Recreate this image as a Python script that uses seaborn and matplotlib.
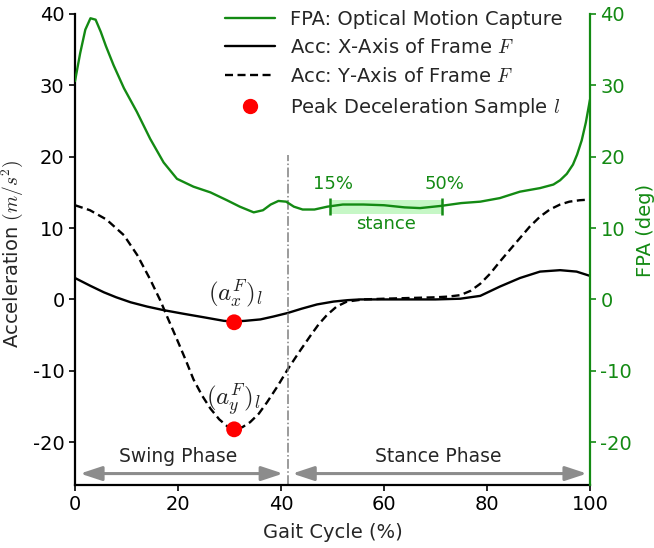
import numpy as np
import pandas as pd
import seaborn as sns
import matplotlib.pyplot as plt
from matplotlib.lines import Line2D

# FPA from optical motion capture (deg), right axis
fpa_pct = [0, 1, 2, 3, 4, 5, 6, 7.5, 9.5, 12, 14.6, 17.2, 19.8, 23, 26.3, 29.5,
           32, 34.7, 36.5, 38, 39.5, 41, 42.5, 44.2, 46.5, 49, 52, 56, 60, 64,
           67, 71, 75, 78.7, 82.5, 86.4, 90.3, 92.9, 94.2, 95.5, 96.7, 97.5,
           98.4, 99.2, 100]
fpa_deg = [30.6, 34.5, 37.8, 39.4, 39.2, 37.5, 35.5, 32.8, 29.6, 26.3, 22.5,
           19.2, 16.9, 15.8, 15.0, 13.9, 13.0, 12.2, 12.5, 13.3, 13.8, 13.7,
           13.0, 12.6, 12.6, 13.0, 13.3, 13.3, 13.2, 12.9, 12.8, 13.1, 13.5,
           13.7, 14.2, 15.1, 15.6, 16.1, 16.7, 17.6, 18.9, 20.3, 22.3, 24.8, 28.0]

# accelerometer, x axis of frame F (m/s^2)
accx_pct = [0, 3, 5.6, 8, 10.8, 14, 17.2, 21, 25, 28.9, 30.9, 33, 36, 38.5,
            41.3, 44, 47, 50.2, 53, 55.4, 60, 65, 70, 74.8, 78.7, 82.5, 86.4,
            90.3, 94.2, 97.4, 100]
accx = [3.0, 1.9, 1.0, 0.3, -0.4, -1.0, -1.5, -2.0, -2.5, -3.0, -3.1, -3.0,
        -2.8, -2.4, -1.9, -1.3, -0.7, -0.3, -0.1, 0.0, 0.0, 0.0, 0.0, 0.1,
        0.5, 1.8, 3.0, 3.9, 4.1, 3.9, 3.3]

# accelerometer, y axis of frame F (m/s^2)
accy_pct = [0, 2.9, 6.1, 9.5, 12.1, 14.6, 16.6, 18, 19.8, 21.5, 23, 24.7,
            26.3, 28, 29.6, 30.9, 32.5, 34, 35.7, 37.3, 39.3, 41.3, 43.5, 45.7,
            47.3, 48.9, 50.8, 52.8, 56, 60, 65, 70, 72.5, 74.8, 76.8, 78.7,
            80.6, 82.5, 84.5, 86.4, 88.3, 90.3, 92.2, 94.2, 96, 98, 100]
accy = [13.2, 12.5, 11.2, 9.0, 6.2, 2.8, -0.2, -2.6, -5.6, -8.5, -11.2, -13.5,
        -15.3, -16.8, -17.8, -18.1, -17.9, -17.2, -16.0, -14.4, -12.2, -9.8,
        -7.4, -5.1, -3.5, -2.2, -1.0, -0.3, 0.0, 0.1, 0.2, 0.3, 0.4, 0.6, 1.2,
        2.2, 3.6, 5.3, 7.0, 8.6, 10.2, 11.6, 12.6, 13.3, 13.7, 13.9, 14.0]

peak_pct = [30.9, 30.9]
peak_acc = [-3.2, -18.2]
swing_end = 41.3
stance_marks = [49.6, 71.2]
stance_labels = ["15%", "50%"]
stance_band = [12.0, 14.0]

sns.set_style("ticks")
plt.rcParams['font.family'] = ['DejaVu Sans']
plt.rcParams['mathtext.fontset'] = 'cm'
plt.rcParams['font.size'] = 13

green = '#138a13'
dash = (0, (3.4, 1.9))
fig, ax = plt.subplots(figsize=(6.54, 5.48), dpi=100)
fig.subplots_adjust(left=0.1147, right=0.9021, top=0.9745, bottom=0.115)
ax2 = ax.twinx()

sns.lineplot(x=accx_pct, y=accx, ax=ax, color='black', lw=1.7)
sns.lineplot(x=accy_pct, y=accy, ax=ax, color='black', lw=1.7, linestyle=dash)
sns.scatterplot(x=peak_pct, y=peak_acc, ax=ax, color='red', s=130, edgecolor='none', zorder=5)
sns.lineplot(x=fpa_pct, y=fpa_deg, ax=ax2, color=green, lw=1.7)

for a in (ax, ax2):
    a.set_xlim(0, 100)
    a.set_ylim(-26, 40)
    a.set_yticks([-20, -10, 0, 10, 20, 30, 40])
    a.set_yticklabels(['-20', '-10', '0', '10', '20', '30', '40'])

# swing / stance boundary
ax.vlines(swing_end, -26, 20.2, color='gray', linestyle='-.', lw=1.1)

# stance window 15%-50%
ax2.fill_between(stance_marks, stance_band[0], stance_band[1], color='#8ef08e', alpha=0.5, lw=0)
ax2.vlines(stance_marks, 11.9, 14.2, color=green, lw=1.8)
for xm, lab in zip(stance_marks, stance_labels):
    ax2.text(xm + 0.5, 16.2, lab, color=green, ha='center', va='center', fontsize=13)
ax2.text(np.mean(stance_marks), 10.5, 'stance', color=green, ha='center', va='center', fontsize=13)

# phase arrows
arrow = dict(arrowstyle='<|-|>,head_length=1.3,head_width=0.43', color='#8c8c8c', lw=2.2,
             mutation_scale=10, shrinkA=0, shrinkB=0)
ax.annotate('', xy=(40.4, -24.4), xytext=(1.0, -24.4), arrowprops=arrow)
ax.annotate('', xy=(99.4, -24.4), xytext=(42.2, -24.4), arrowprops=arrow)
ax.text(20.1, -22.0, 'Swing Phase', ha='center', va='center', fontsize=13.5)
ax.text(70.6, -22.0, 'Stance Phase', ha='center', va='center', fontsize=13.5)

ax.text(31.1, 0.9, r'$(a_x^F)_l$', ha='center', va='center', fontsize=18, color='#222222')
ax.text(30.8, -14.1, r'$(a_y^F)_l$', ha='center', va='center', fontsize=18, color='#222222')

ax.set_xlabel('Gait Cycle (%)', fontsize=14, labelpad=6)
ax.set_ylabel(r'Acceleration $(m/s^2)$', fontsize=14)
ax2.set_ylabel('FPA (deg)', color=green, fontsize=14)
ax.yaxis.set_label_coords(-0.098, 0.49)
ax2.yaxis.set_label_coords(1.09, 0.54)

for s in ('top', 'right'):
    ax.spines[s].set_visible(False)
for s in ('top', 'left', 'bottom'):
    ax2.spines[s].set_visible(False)
ax.spines['left'].set_color('black')
ax.spines['bottom'].set_color('black')
ax.spines['left'].set_linewidth(1.6)
ax.spines['bottom'].set_linewidth(1.6)
ax2.spines['right'].set_color(green)
ax2.spines['right'].set_linewidth(1.6)
ax.tick_params(axis='both', colors='black', labelsize=14, length=4, width=1.2)
ax2.tick_params(axis='y', colors=green, labelcolor=green, labelsize=14, length=4, width=1.2)

handles = [Line2D([], [], color=green, lw=1.7),
           Line2D([], [], color='black', lw=1.7),
           Line2D([], [], color='black', lw=1.7, linestyle=dash),
           Line2D([], [], color='red', marker='o', markersize=10, linestyle='none')]
labels = ['FPA: Optical Motion Capture', r'Acc: X-Axis of Frame $F$',
          r'Acc: Y-Axis of Frame $F$', r'Peak Deceleration Sample $l$']
ax2.legend(handles, labels, loc='upper left', bbox_to_anchor=(0.276, 1.026),
           frameon=False, fontsize=14, handlelength=2.6, labelspacing=0.5,
           handletextpad=0.75, borderaxespad=0)
if ax.get_legend() is not None:
    ax.get_legend().remove()

fig.savefig('out.png', dpi=100)
